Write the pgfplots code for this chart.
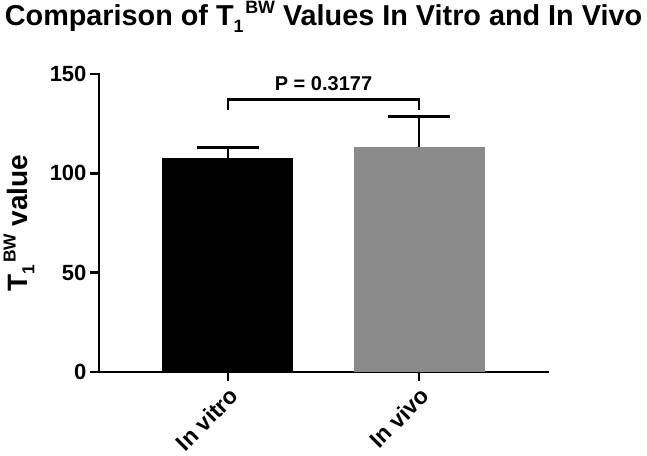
\documentclass[border=0pt]{standalone}
\usepackage{fontspec}
\setmainfont{Liberation Sans}
\usepackage{pgfplots}
\pgfplotsset{compat=1.18}
\definecolor{bargray}{RGB}{138,138,138}
\newcommand\TBW{T\raisebox{-0.25em}{\scalebox{0.62}{1}}\hspace{0.06em}\raisebox{0.42em}{\scalebox{0.62}{BW}}}
\begin{document}
\begin{tikzpicture}
\path[use as bounding box] (-99pt,-83pt) rectangle (548pt,372pt);
\begin{axis}[
  scale only axis, width=449pt, height=298pt,
  xmin=-0.675, xmax=1.675, ymin=0, ymax=150,
  axis x line*=bottom, axis y line*=left,
  axis line style={line width=2.5pt, line cap=rect},
  ytick={0,50,100,150},
  xtick={0,1}, xticklabels={In vitro, In vivo},
  tick align=outside, major tick length=9pt,
  tick style={line width=2.5pt, black},
  /pgf/number format/assume math mode=true,
  yticklabel style={font=\bfseries\fontsize{22}{26}\selectfont},
  xticklabel style={rotate=45, anchor=north east, font=\bfseries\fontsize{23}{27}\selectfont},
  ylabel={\bfseries\TBW\ value},
  ylabel style={at={(axis description cs:-0.136,0.5)}, anchor=south, font=\fontsize{28}{32}\selectfont},
  title={\bfseries Comparison of \TBW\ Values In Vitro and In Vivo},
  title style={at={(axis description cs:0.5,1.142)}, anchor=base, font=\fontsize{28.8}{33}\selectfont},
  clip=false,
]
\addplot[ybar, bar width=131pt, bar shift=0pt, fill=black, draw=none,
  error bars/.cd, y dir=plus, y explicit,
  error bar style={line width=2.5pt, black},
  error mark options={rotate=90, mark size=31pt, line width=2.5pt, black}]
  coordinates {(0,107.6) +- (0,5.3)};
\addplot[ybar, bar width=131pt, bar shift=0pt, fill=bargray, draw=none,
  error bars/.cd, y dir=plus, y explicit,
  error bar style={line width=2.5pt, black},
  error mark options={rotate=90, mark size=31pt, line width=2.5pt, black}]
  coordinates {(1,113.1) +- (0,15.4)};
\addplot[black, line width=2.5pt, mark=none, line join=miter]
  coordinates {(0,131.8) (0,137.2) (1,137.2) (1,131.8)};
\node[anchor=base, font=\bfseries\fontsize{20}{24}\selectfont] at (axis cs:0.5,141.9) {P = 0.3177};
\end{axis}
\end{tikzpicture}
\end{document}
